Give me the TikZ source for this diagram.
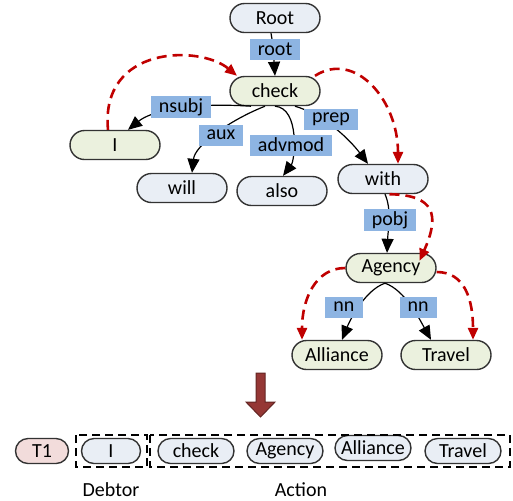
\documentclass[tikz,border=0pt]{standalone}
\usepackage{fontspec}
\setmainfont{Carlito}
\usetikzlibrary{arrows.meta,shapes.misc}
\definecolor{nodeblue}{HTML}{E9EEF5}
\definecolor{nodegreen}{HTML}{EBF1DE}
\definecolor{nodepink}{HTML}{F2DCDB}
\definecolor{labelblue}{HTML}{8DB4E2}
\definecolor{dashred}{HTML}{C00000}
\definecolor{bigarrow}{HTML}{953735}
\definecolor{bigarrowline}{HTML}{632523}
\tikzset{
    word/.style={rounded rectangle, draw=black!80, line width=0.7pt, minimum width=47pt, minimum height=14.5pt, inner sep=1pt, font=\fontsize{10}{12}\selectfont},
    blueword/.style={word, fill=nodeblue},
    greenword/.style={word, fill=nodegreen},
    rowword/.style={word, fill=nodeblue, minimum width=40pt, minimum height=12.5pt},
    deplabel/.style={fill=labelblue, inner sep=1pt, inner xsep=4pt, minimum height=10.5pt, font=\fontsize{10}{12}\selectfont},
    dep/.style={-{Triangle[length=7pt,width=6pt]}, line width=0.6pt},
    reddep/.style={-{Triangle[length=6pt,width=5pt]}, draw=dashred, line width=1.3pt, dash pattern=on 5pt off 3pt},
    groupbox/.style={line width=1pt, dash pattern=on 4pt off 2.5pt}
}
\begin{document}
\begin{tikzpicture}[x=0.5pt, y=-0.5pt]
                \useasboundingbox (0,0) rectangle (513,500);
                \node[blueword] (root) at (275,18) {Root};
                \node[greenword] (check) at (275,91) {check};
                \node[greenword] (i) at (115,145) {I};
                \node[blueword] (will) at (182,188) {will};
                \node[blueword] (also) at (282,191) {also};
                \node[blueword] (with) at (383,179) {with};
                \node[greenword] (agency) at (391,268) {Agency};
                \node[greenword] (alliance) at (337,355) {Alliance};
                \node[greenword] (travel) at (446,355) {Travel};
                \draw[dep] ([xshift=-2pt]root.south) .. controls (273,45) .. (check.north);
                \draw[dep] ([xshift=-12pt]check.south) .. controls (185,102) and (150,112) .. ([xshift=6.5pt]i.north);
                \draw[dep] ([xshift=-5pt]check.south) .. controls (230,120) and (195,145) .. ([xshift=5pt]will.north);
                \draw[dep] ([xshift=0pt]check.south) .. controls (300,108) and (295,160) .. ([xshift=0.5pt]also.north);
                \draw[dep] ([xshift=10pt]check.south) .. controls (325,115) and (350,140) .. ([xshift=-7.5pt]with.north);
                \draw[dep] ([xshift=1pt]with.south) .. controls (392,210) and (388,230) .. ([xshift=-2pt]agency.north);
                \draw[dep] ([xshift=-3pt]agency.south) .. controls (365,290) and (350,320) .. ([xshift=2.5pt]alliance.north);
                \draw[dep] ([xshift=-3pt]agency.south) .. controls (405,290) and (420,320) .. ([xshift=-7.5pt]travel.north);
                \draw[reddep] ([xshift=-3.5pt]i.north) .. controls (100,45) and (200,45) .. ([xshift=-19pt]check.north);
                \draw[reddep] ([xshift=20pt]check.north) .. controls (355,50) and (398,100) .. ([xshift=7.5pt]with.north);
                \draw[reddep] ([xshift=-12pt]with.south east) .. controls (435,195) and (440,215) .. ([shift={(-1pt,-4pt)}]agency.north east);
                \draw[reddep] (agency.west) .. controls (315,268) and (302,300) .. ([xshift=-17.5pt]alliance.north);
                \draw[reddep] ([yshift=-2pt]agency.east) .. controls (465,272) and (473,300) .. ([xshift=13.5pt]travel.north);
                \node[deplabel] (lroot) at (275,49) {root};
                \node[deplabel] (lnsubj) at (181,107) {nsubj};
                \node[deplabel] (laux) at (221,135) {aux};
                \node[deplabel] (ladvmod) at (291,145) {advmod};
                \node[deplabel] (lprep) at (331,119) {prep};
                \node[deplabel] (lpobj) at (390,220) {pobj};
                \node[deplabel] (lnna) at (344,307) {nn};
                \node[deplabel] (lnnb) at (418,307) {nn};
                \draw[fill=bigarrow, draw=bigarrowline, line width=0.5pt] (256,373) -- (265,373) -- (265,402) -- (275,402) -- (260.5,417) -- (246,402) -- (256,402) -- cycle;
                \node[rowword, fill=nodepink, minimum width=28.5pt] (tone) at (42,451) {T1};
                \node[rowword, minimum width=31.5pt] (bi) at (111,451) {I};
                \node[rowword] (bcheck) at (196,451) {check};
                \node[rowword] (bagency) at (285,451) {Agency};
                \node[rowword] (balliance) at (373,448) {Alliance};
                \node[rowword] (btravel) at (463,451) {Travel};
                \draw[groupbox] (76,435) rectangle (147,467);
                \draw[groupbox] (150,435) rectangle (510,467);
                \node[font=\fontsize{10}{12}\selectfont] (debtor) at (111,490) {Debtor};
                \node[font=\fontsize{10}{12}\selectfont] (action) at (301,490) {Action};
            \end{tikzpicture}
\end{document}
